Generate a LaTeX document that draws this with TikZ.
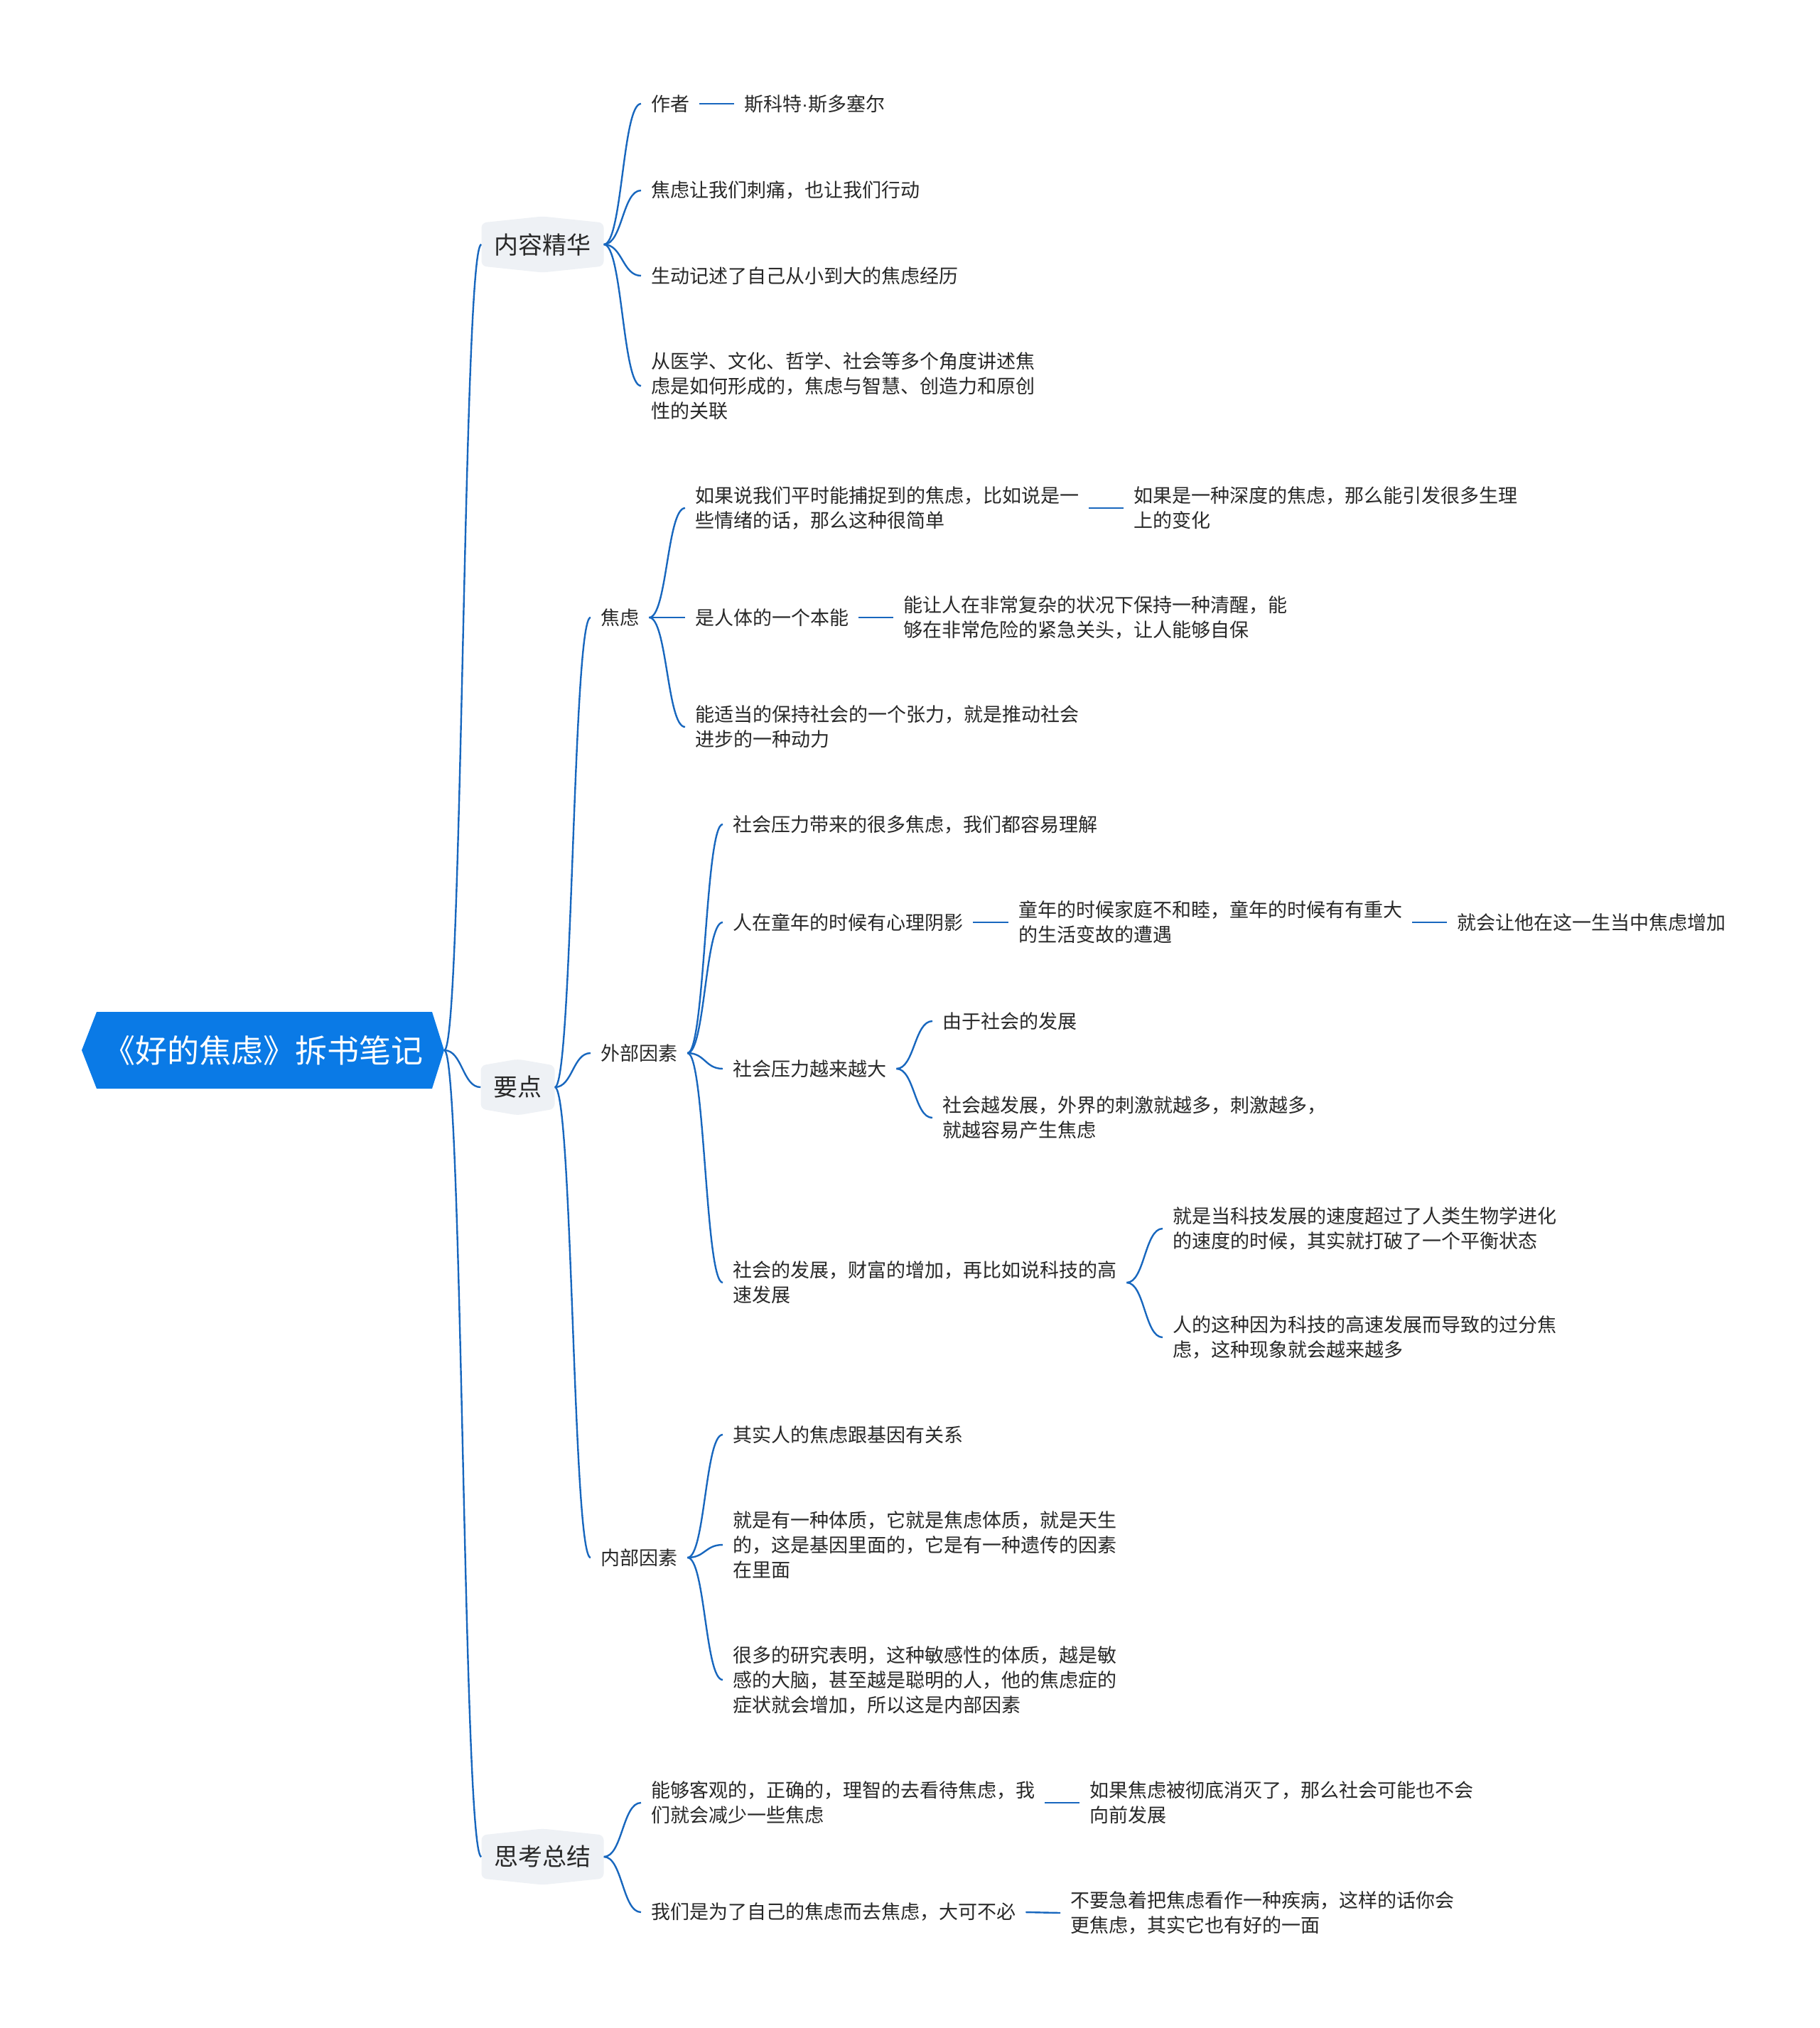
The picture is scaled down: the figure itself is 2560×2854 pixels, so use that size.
\documentclass[tikz,border=0pt]{standalone}
\usepackage{fontspec}
\newfontfamily\cjk{Noto Sans CJK SC}
\newfontfamily\latinfont{Liberation Sans}
\usetikzlibrary{calc}
\definecolor{rootblue}{RGB}{10,122,230}
\definecolor{linkblue}{RGB}{24,103,190}
\definecolor{boxgray}{RGB}{238,241,245}
\definecolor{txt}{RGB}{40,40,40}
\begin{document}
\begin{tikzpicture}[x=1pt,y=-1pt,
 leaf/.style={font=\cjk\fontsize{27}{35}\selectfont, text=txt, inner xsep=14pt, inner ysep=4pt, align=left, anchor=west},
 lone/.style={font=\cjk\fontsize{34}{40}\selectfont, text=txt, inner xsep=18pt, inner ysep=0pt, minimum height=79pt,
   path picture={\fill[boxgray, rounded corners=7pt]
     ([yshift=-9pt]path picture bounding box.north west) -- (path picture bounding box.north) --
     ([yshift=-9pt]path picture bounding box.north east) -- ([yshift=9pt]path picture bounding box.south east) --
     (path picture bounding box.south) -- ([yshift=9pt]path picture bounding box.south west) -- cycle;}},
 rootnode/.style={font=\cjk\fontsize{45}{50}\selectfont, text=white, inner sep=0pt, minimum width=510pt, minimum height=108pt,
   path picture={\fill[rootblue]
     (path picture bounding box.west) -- ([xshift=21pt]path picture bounding box.north west) --
     ([xshift=-17pt]path picture bounding box.north east) -- (path picture bounding box.east) --
     ([xshift=-17pt]path picture bounding box.south east) -- ([xshift=21pt]path picture bounding box.south west) -- cycle;}},
 conn/.style={draw=linkblue, line width=2.4pt,
   to path={let \p1=(\tikztostart), \p2=(\tikztotarget) in
     .. controls ({0.5*\x1+0.5*\x2},\y1) and ({0.5*\x1+0.5*\x2},\y2) .. (\tikztotarget)}},
 link/.style={draw=linkblue, line width=2.4pt}
]
\useasboundingbox (0,0) rectangle (2560,2854);

% root and level 1
\node[rootnode] (root) at (370,1478) {《好的焦虑》拆书笔记};
\node[lone] (k1) at (763.5,344) {内容精华};
\node[lone] (k2) at (728.5,1530) {要点};
\node[lone] (k3) at (763.5,2613) {思考总结};

% 内容精华
\node[leaf] (a1) at (902,146) {作者};
\node[leaf] (a1b) at (1033,146) {斯科特{\latinfont ·}斯多塞尔};
\node[leaf] (a2) at (902,268) {焦虑让我们刺痛，也让我们行动};
\node[leaf] (a3) at (902,388) {生动记述了自己从小到大的焦虑经历};
\node[leaf] (a4) at (902,543) {从医学、文化、哲学、社会等多个角度讲述焦\\虑是如何形成的，焦虑与智慧、创造力和原创\\性的关联};

% 要点
\node[leaf] (b1) at (831,869) {焦虑};
\node[leaf] (b2) at (831,1482) {外部因素};
\node[leaf] (b3) at (831,2192) {内部因素};

% 焦虑
\node[leaf] (c1) at (964,715) {如果说我们平时能捕捉到的焦虑，比如说是一\\些情绪的话，那么这种很简单};
\node[leaf] (c1b) at (1581,715) {如果是一种深度的焦虑，那么能引发很多生理\\上的变化};
\node[leaf] (c2) at (964,869) {是人体的一个本能};
\node[leaf] (c2b) at (1257,869) {能让人在非常复杂的状况下保持一种清醒，能\\够在非常危险的紧急关头，让人能够自保};
\node[leaf] (c3) at (964,1023) {能适当的保持社会的一个张力，就是推动社会\\进步的一种动力};

% 外部因素
\node[leaf] (d1) at (1017,1160) {社会压力带来的很多焦虑，我们都容易理解};
\node[leaf] (d2) at (1017,1298) {人在童年的时候有心理阴影};
\node[leaf] (d2b) at (1419,1298) {童年的时候家庭不和睦，童年的时候有有重大\\的生活变故的遭遇};
\node[leaf] (d2c) at (2036,1298) {就会让他在这一生当中焦虑增加};
\node[leaf] (d3) at (1017,1504) {社会压力越来越大};
\node[leaf] (d3a) at (1312,1437) {由于社会的发展};
\node[leaf] (d3b) at (1312,1573) {社会越发展，外界的刺激就越多，刺激越多，\\就越容易产生焦虑};
\node[leaf] (d4) at (1017,1805) {社会的发展，财富的增加，再比如说科技的高\\速发展};
\node[leaf] (d4a) at (1636,1729) {就是当科技发展的速度超过了人类生物学进化\\的速度的时候，其实就打破了一个平衡状态};
\node[leaf] (d4b) at (1636,1882) {人的这种因为科技的高速发展而导致的过分焦\\虑，这种现象就会越来越多};

% 内部因素
\node[leaf] (e1) at (1017,2019) {其实人的焦虑跟基因有关系};
\node[leaf] (e2) at (1017,2174) {就是有一种体质，它就是焦虑体质，就是天生\\的，这是基因里面的，它是有一种遗传的因素\\在里面};
\node[leaf] (e3) at (1017,2364) {很多的研究表明，这种敏感性的体质，越是敏\\感的大脑，甚至越是聪明的人，他的焦虑症的\\症状就会增加，所以这是内部因素};

% 思考总结
\node[leaf] (f1) at (902,2537) {能够客观的，正确的，理智的去看待焦虑，我\\们就会减少一些焦虑};
\node[leaf] (f1b) at (1519,2537) {如果焦虑被彻底消灭了，那么社会可能也不会\\向前发展};
\node[leaf] (f2) at (902,2691) {我们是为了自己的焦虑而去焦虑，大可不必};
\node[leaf] (f2b) at (1492,2692) {不要急着把焦虑看作一种疾病，这样的话你会\\更焦虑，其实它也有好的一面};

% curved connectors
\foreach \s/\t in {root/k1, root/k2, root/k3,
  k1/a1, k1/a2, k1/a3, k1/a4,
  k2/b1, k2/b2, k2/b3,
  b1/c1, b1/c3,
  b2/d1, b2/d2, b2/d3, b2/d4,
  d3/d3a, d3/d3b, d4/d4a, d4/d4b,
  b3/e1, b3/e2, b3/e3,
  k3/f1, k3/f2}
  \draw[conn] (\s.east) to (\t.west);

% straight connectors
\foreach \s/\t in {a1/a1b, b1/c2, c1/c1b, c2/c2b, d2/d2b, d2b/d2c, f1/f1b, f2/f2b}
  \draw[link] (\s.east) -- (\t.west);
\end{tikzpicture}
\end{document}
